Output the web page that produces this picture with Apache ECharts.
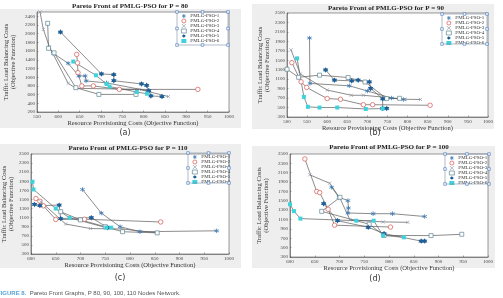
<!DOCTYPE html>
<html lang="en">
<head>
<meta charset="UTF-8" />
<title>Pareto Front of PMLG-PSO</title>
<script src="https://cdn.jsdelivr.net/npm/echarts@6/dist/echarts.min.js"></script>
<style>
    html, body { margin: 0; padding: 0; background: #fff; }
    #chart { width: 503px; height: 298px; }
</style>
</head>
<body>
<div id="chart"></div>
<script>
// ---- names / labels
const seriesNames = ['PMLG-PSO-1', 'PMLG-PSO-2', 'PMLG-PSO-3', 'PMLG-PSO-4', 'PMLG-PSO-5', 'PMLG-PSO-6'];
const panelTitles = ['Pareto Front of PMLG-PSO for P = 80', 'Pareto Front of PMLG-PSO for P = 90',
    'Pareto Front of PMLG-PSO for P = 110', 'Pareto Front of PMLG-PSO for P = 100'];
const panelLetters = ['(a)', '(b)', '(c)', '(d)'];
const xName = 'Resource Provisioning Costs (Objective Function)';
const yName = 'Traffic Load Balancing Costs\n(Objective Function)';

// ---- tick labels
const xTicksA = [550, 600, 650, 700, 750, 800, 850, 900, 950, 1000];
const yTicksA = [200, 400, 600, 800, 1000, 1200, 1400, 1600, 1800, 2000, 2200, 2400, 2500];
const xTicksB = [500, 550, 600, 650, 700, 750, 800, 850, 900, 950, 1000];
const xTicksCD = [600, 650, 700, 750, 800, 850, 900, 950, 1000];
const yTicksBCD = [300, 500, 700, 900, 1100, 1300, 1500, 1700, 1900, 2100, 2300, 2500];

// ---- P = 80
const p80_1 = [[588, 1550], [623, 1320], [648, 1030], [663, 1030], [665, 915], [713, 870], [811, 685]];
const p80_2 = [[643, 1525], [645, 1330], [646, 1105], [655, 800], [682, 800], [743, 720], [927, 720]];
const p80_3 = [[557, 2500], [565, 2100], [579, 1700], [623, 860], [641, 745], [790, 720], [858, 555]];
const p80_4 = [[575, 2240], [577, 1665], [590, 1560], [641, 760], [695, 605], [782, 605]];
const p80_5 = [[605, 2040], [701, 1075], [730, 1060], [730, 920], [795, 845], [807, 815], [812, 690], [817, 570], [843, 555]];
const p80_6 = [[635, 1360], [688, 1045], [713, 845], [720, 785], [784, 660], [808, 620]];

// ---- P = 90
const p90_1 = [[556, 1970], [557, 1010], [655, 960], [700, 850], [760, 700], [790, 670]];
const p90_2 = [[512, 1450], [535, 1045], [549, 925], [600, 690], [633, 675], [690, 560], [713, 560], [856, 548]];
const p90_3 = [[510, 1720], [533, 1210], [600, 870], [660, 760], [690, 760], [794, 675], [832, 670]];
const p90_4 = [[500, 1310], [529, 1140], [581, 1185], [652, 1135], [694, 1040], [748, 690], [780, 695]];
const p90_5 = [[596, 1295], [618, 1080], [661, 1065], [677, 1080], [705, 1045], [708, 905], [738, 685], [738, 480], [748, 480]];
const p90_6 = [[525, 1540], [542, 725], [552, 515], [581, 500], [625, 500], [696, 470], [738, 478]];

// ---- P = 110
const p110_1 = [[704, 1720], [742, 1200], [780, 900], [820, 790], [975, 810]];
const p110_2 = [[610, 1520], [618, 1460], [625, 1360], [650, 1060], [708, 1065], [862, 1005]];
const p110_3 = [[620, 1450], [670, 960], [720, 860], [785, 850], [855, 765]];
const p110_4 = [[660, 1230], [700, 1050], [750, 900], [785, 790], [855, 765]];
const p110_5 = [[607, 1390], [618, 1365], [657, 1375], [660, 1080], [722, 1100], [755, 880]];
const p110_6 = [[603, 1890], [605, 1720], [650, 1300], [678, 1095], [752, 880], [762, 880]];

// ---- P = 100
const p100_1 = [[684, 1790], [699, 1575], [717, 1505], [718, 1345], [717, 1240], [768, 1225], [807, 1225], [872, 1165]];
const p100_2 = [[630, 2395], [654, 1700], [660, 1675], [677, 1320], [690, 980], [803, 940]];
const p100_3 = [[640, 2055], [680, 1875], [701, 1555], [721, 1095], [788, 1050], [838, 1040]];
const p100_4 = [[701, 1575], [664, 1275], [760, 1000], [790, 760], [885, 757], [947, 785]];
const p100_5 = [[668, 1440], [696, 1075], [758, 935], [790, 800], [865, 640], [872, 640]];
const p100_6 = [[600, 1425], [608, 1280], [621, 1120], [734, 1075], [769, 1075], [788, 760], [830, 720]];

const panelData = [
    [p80_1, p80_2, p80_3, p80_4, p80_5, p80_6],
    [p90_1, p90_2, p90_3, p90_4, p90_5, p90_6],
    [p110_1, p110_2, p110_3, p110_4, p110_5, p110_6],
    [p100_1, p100_2, p100_3, p100_4, p100_5, p100_6]
];

// layout of the four sub-plots
const panels = [
    { grid: [37, 12, 192, 100], xr: [550, 1000], yr: [200, 2500], xt: xTicksA, yt: yTicksA, bg: [0, 9, 241, 119], yGap: 20, xGap: 8, title: [130, 6], letter: [125, 133], legend: [177, 12, 51, 33] },
    { grid: [287, 13, 201, 104], xr: [500, 1000], yr: [300, 2500], xt: xTicksB, yt: yTicksBCD, bg: [252, 4, 242, 125], yGap: 9, xGap: 6, title: [386, 8], letter: [375, 133], legend: [442, 14, 45, 30] },
    { grid: [31, 154, 198, 100], xr: [600, 1000], yr: [300, 2500], xt: xTicksCD, yt: yTicksBCD, bg: [0, 144, 241, 124], yGap: 16, xGap: 8, title: [128, 148], letter: [120, 278], legend: [188, 153, 41, 30] },
    { grid: [290, 154, 198, 103], xr: [600, 1000], yr: [300, 2500], xt: xTicksCD, yt: yTicksBCD, bg: [252, 146, 243, 122], yGap: 20, xGap: 6, title: [389, 147], letter: [375, 279], legend: [445, 154, 44, 30] }
];

const serif = 'Liberation Serif';
const asterisk = 'path://M5,0L5,10M0.7,2.5L9.3,7.5M9.3,2.5L0.7,7.5';
const xMark = 'path://M0,0L10,10M10,0L0,10';
const hexagram = 'path://M5,0L6.5,2.5L9.33,2.5L7.9,5L9.33,7.5L6.5,7.5L5,10L3.5,7.5L0.67,7.5L2.1,5L0.67,2.5L3.5,2.5Z';
const markers = [
    { symbol: asterisk, size: 4.5, style: { color: '#3a78b4', borderColor: '#3a78b4', borderWidth: 0.8 } },
    { symbol: 'circle', size: 4.5, style: { color: '#ffffff', borderColor: '#d9534f', borderWidth: 0.7 } },
    { symbol: xMark, size: 3.2, style: { color: '#8c99aa', borderColor: '#8c99aa', borderWidth: 0.7 } },
    { symbol: 'rect', size: 4, style: { color: '#ffffff', borderColor: '#5f8794', borderWidth: 0.7 } },
    { symbol: hexagram, size: 5.5, style: { color: '#1f5e96', borderWidth: 0 } },
    { symbol: 'rect', size: 4, style: { color: '#3fd2da', borderWidth: 0 } }
];

const chart = echarts.init(document.getElementById('chart'), null, { renderer: 'canvas' });

const grids = [], xAxes = [], yAxes = [], series = [], legends = [], graphics = [];

function plainNum(v) {
    return String(v);
}

panels.forEach(function (p, i) {
    grids.push({
        left: p.grid[0], top: p.grid[1], width: p.grid[2], height: p.grid[3],
        show: true, backgroundColor: '#ffffff', borderColor: '#555', borderWidth: 0.6
    });
    const axisCommon = {
        axisLine: { lineStyle: { color: '#555', width: 0.6 } },
        splitLine: { show: false },
        nameTextStyle: { fontFamily: serif, fontSize: 6.5, color: '#333', lineHeight: 7 },
        nameLocation: 'middle'
    };
    xAxes.push(Object.assign({}, axisCommon, {
        type: 'value', gridIndex: i, min: p.xr[0], max: p.xr[1],
        name: xName, nameGap: p.xGap,
        axisTick: { inside: true, length: 1.5, customValues: p.xt, lineStyle: { color: '#555', width: 0.5 } },
        axisLabel: { customValues: p.xt, formatter: plainNum, fontFamily: serif, fontSize: 5, color: '#444', margin: 2 }
    }));
    yAxes.push(Object.assign({}, axisCommon, {
        type: 'value', gridIndex: i, min: p.yr[0], max: p.yr[1],
        name: yName, nameGap: p.yGap,
        axisTick: { inside: true, length: 1.5, customValues: p.yt, lineStyle: { color: '#555', width: 0.5 } },
        axisLabel: { customValues: p.yt, formatter: plainNum, fontFamily: serif, fontSize: 5, color: '#444', margin: 2 }
    }));

    panelData[i].forEach(function (pts, s) {
        const m = markers[s];
        series.push({
            type: 'line', name: seriesNames[s], xAxisIndex: i, yAxisIndex: i,
            data: pts, symbol: m.symbol, symbolSize: m.size,
            itemStyle: m.style,
            lineStyle: { color: '#5a5a5a', width: 0.7 },
            emphasis: { disabled: true }
        });
    });

    const lb = p.legend;
    legends.push({
        orient: 'vertical', left: lb[0] + 4, top: lb[1] + 1.5,
        itemWidth: 5, itemHeight: 4, itemGap: 0, padding: 0, selectedMode: false,
        textStyle: { fontFamily: serif, fontSize: 5, color: '#333', lineHeight: 4.9, padding: [0, 0, 0, -1] },
        data: seriesNames.map(function (n, s) {
            return { name: n, icon: markers[s].symbol, itemStyle: markers[s].style };
        })
    });

    // figure background
    graphics.push({ type: 'rect', z: -10, shape: { x: p.bg[0], y: p.bg[1], width: p.bg[2], height: p.bg[3] }, style: { fill: '#eeeeee' } });
    // legend box + selection handles
    graphics.push({ type: 'rect', z: 50, shape: { x: lb[0], y: lb[1], width: lb[2], height: lb[3] }, style: { fill: 'none', stroke: '#7d8fa3', lineWidth: 0.6 } });
    [[0, 0], [0.5, 0], [1, 0], [0, 0.5], [1, 0.5], [0, 1], [0.5, 1], [1, 1]].forEach(function (h) {
        graphics.push({
            type: 'rect', z: 51,
            shape: { x: lb[0] + h[0] * lb[2] - 1.3, y: lb[1] + h[1] * lb[3] - 1.3, width: 2.6, height: 2.6 },
            style: { fill: '#ffffff', stroke: '#3d72b8', lineWidth: 0.6 }
        });
    });
    // title
    graphics.push({
        type: 'text', z: 60, x: p.title[0], y: p.title[1],
        style: { text: panelTitles[i], fontFamily: serif, fontSize: 7, fontWeight: 'bold', fill: '#222', align: 'center', verticalAlign: 'middle' }
    });
    // panel letter
    graphics.push({
        type: 'text', z: 60, x: p.letter[0], y: p.letter[1],
        style: { text: panelLetters[i], fontFamily: 'DejaVu Sans', fontSize: 8, fill: '#333', align: 'center', verticalAlign: 'middle' }
    });
});

// caption
graphics.push({
    type: 'text', z: 60, x: -3, y: 293,
    style: {
        text: '{b|FIGURE 8.}  Pareto Front Graphs, P 80, 90, 100, 110 Nodes Network.',
        fontFamily: 'Liberation Sans', fontSize: 6, fill: '#555', verticalAlign: 'middle',
        rich: { b: { fontFamily: 'Liberation Sans', fontSize: 6, fontWeight: 'bold', fill: '#5aa3d8' } }
    }
});

chart.setOption({
    animation: false,
    backgroundColor: '#ffffff',
    grid: grids,
    xAxis: xAxes,
    yAxis: yAxes,
    legend: legends,
    series: series,
    graphic: graphics
});

window.onresize = function () {
    chart.resize();
};
</script>
</body>
</html>
